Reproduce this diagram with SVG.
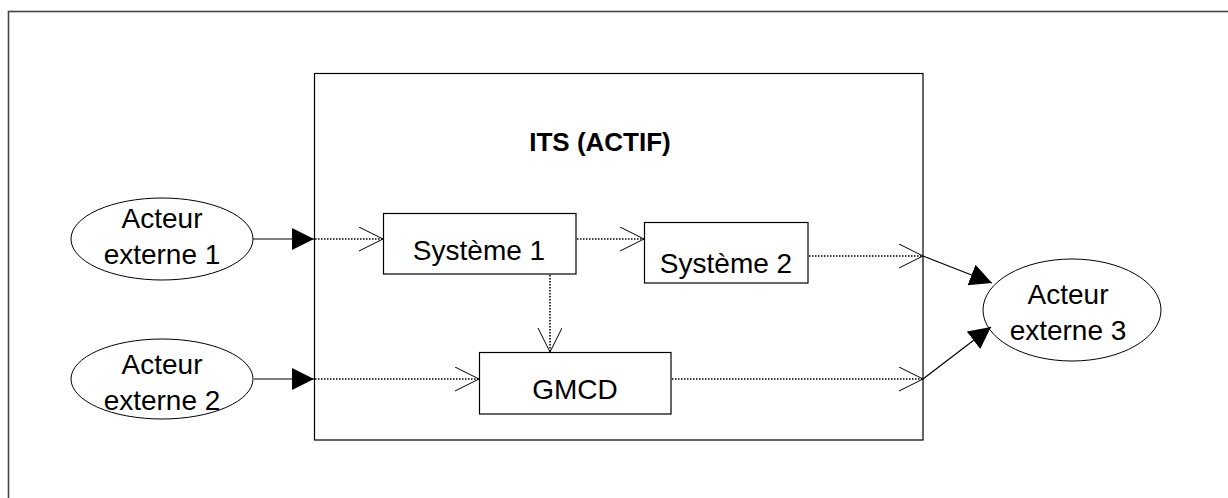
<svg xmlns="http://www.w3.org/2000/svg" width="1228" height="498" viewBox="0 0 1228 498">
<style>
text{font-family:"Liberation Sans",Arial,sans-serif;font-size:28px;fill:#000;text-anchor:middle}
.t{font-weight:bold;font-size:26px}
.box{fill:#fff;stroke:#000;stroke-width:1.2}
.ell{fill:#fff;stroke:#000;stroke-width:1}
.solid{fill:none;stroke:#000;stroke-width:1.2}
.dot{fill:none;stroke:#000;stroke-width:1.6;stroke-dasharray:1.5 1.5}
</style>
<defs>
<marker id="fa" markerUnits="userSpaceOnUse" markerWidth="24" markerHeight="24" refX="22" refY="11" orient="auto"><path d="M0,0 L22,11 L0,22 z" fill="#000"/></marker>
<marker id="oa" markerUnits="userSpaceOnUse" markerWidth="26" markerHeight="26" refX="24" refY="12" orient="auto"><path d="M0,0 L24,12 L0,24" fill="none" stroke="#000" stroke-width="1"/></marker>
</defs>
<rect x="0" y="0" width="1228" height="498" fill="#fff"/>
<rect x="8.5" y="11.5" width="1240" height="520" fill="none" stroke="#444" stroke-width="1.6"/>
<g id="its"><rect class="box" x="314.5" y="73.5" width="608.5" height="366.5"/><text class="t" x="600" y="151">ITS (ACTIF)</text></g>
<g id="acteur1"><ellipse class="ell" cx="162" cy="239" rx="91" ry="41"/><text x="162" y="228">Acteur</text><text x="162" y="264">externe 1</text></g>
<g id="acteur2"><ellipse class="ell" cx="162" cy="379" rx="91" ry="40"/><text x="162" y="374">Acteur</text><text x="162" y="410">externe 2</text></g>
<g id="acteur3"><ellipse class="ell" cx="1072" cy="310" rx="89" ry="51"/><text x="1068" y="304">Acteur</text><text x="1068" y="340">externe 3</text></g>
<g id="systeme1"><rect class="box" x="383.5" y="213.5" width="192.5" height="60.5"/><text x="479" y="260">Système 1</text></g>
<g id="systeme2"><rect class="box" x="644.5" y="222.5" width="163.5" height="60.5"/><text x="726" y="273">Système 2</text></g>
<g id="gmcd"><rect class="box" x="479.5" y="352.5" width="191.5" height="61.5"/><text x="575" y="399">GMCD</text></g>
<g id="connectors">
<line class="solid" x1="253" y1="239" x2="314" y2="239" marker-end="url(#fa)"/>
<line class="dot" x1="315" y1="239" x2="383" y2="239" marker-end="url(#oa)"/>
<line class="dot" x1="577" y1="239" x2="644" y2="239" marker-end="url(#oa)"/>
<line class="dot" x1="550" y1="275" x2="550" y2="352" marker-end="url(#oa)"/>
<line class="solid" x1="254" y1="379" x2="314" y2="379" marker-end="url(#fa)"/>
<line class="dot" x1="315" y1="379" x2="479" y2="379" marker-end="url(#oa)"/>
<line class="dot" x1="809" y1="256" x2="923" y2="256" marker-end="url(#oa)"/>
<line class="dot" x1="672" y1="379" x2="923" y2="379" marker-end="url(#oa)"/>
<line class="solid" x1="923" y1="256" x2="992" y2="283" marker-end="url(#fa)"/>
<line class="solid" x1="923" y1="379" x2="991" y2="327" marker-end="url(#fa)"/>
</g>
</svg>
